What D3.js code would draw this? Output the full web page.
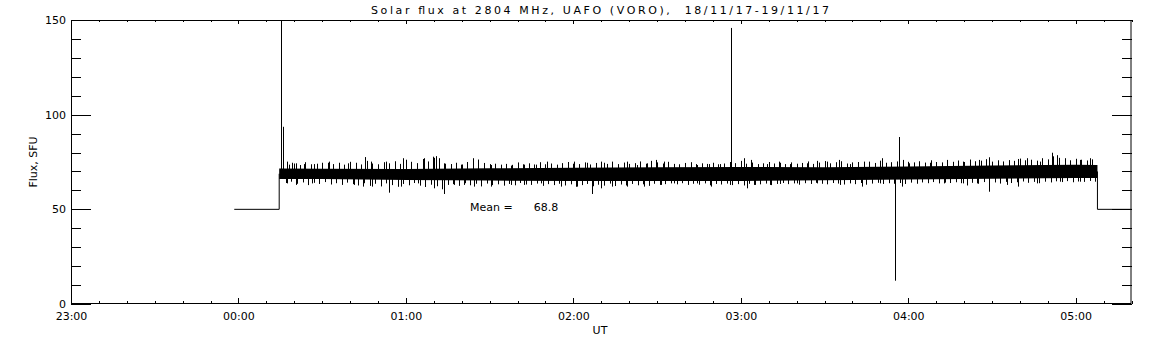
<!DOCTYPE html>
<html>
<head>
<meta charset="utf-8">
<script src="https://cdn.jsdelivr.net/npm/d3@7"></script>
<style>
  body { margin: 0; background: #fff; }
  svg text { font-family: "DejaVu Sans", sans-serif; font-size: 11px; fill: #000; white-space: pre; }
</style>
</head>
<body>
<div id="chart"></div>
<script>
// times are minutes after 00:00 UT on 19/11/17 (negative = previous day)
var preTimes = [-1.5, 14.6];
var preFlux = [50, 50];
var postTimes = [307.8, 320];
var postFlux = [50, 50];

// dense part of the record: upper and lower edge of the black band
var bandTimes = [14.6, 30, 60, 90, 120, 150, 180, 210, 240, 270, 300, 307.8];
var bandHigh = [71.6, 71.5, 71.3, 71.7, 71.9, 72.2, 72.4, 72.2, 72.6, 73.2, 73.6, 73.4];
var bandLow = [66.0, 66.0, 65.5, 65.2, 65.0, 64.9, 65.0, 65.4, 65.8, 66.2, 66.5, 66.6];

// larger excursions above the band
var upTimes = [15.4, 15.9, 17.4, 19.1, 20.7, 23.6, 27.2, 29.9, 32.6, 36.2, 39.2, 42.1, 45.4, 47.5, 52.9, 58.9,
  66.6, 69.6, 70.7, 71.9, 73.7, 76.1, 79.7, 83.9, 85.7, 90.4, 94, 97.6, 100, 102.4, 106.5, 110.7,
  114.3, 120.3, 125, 131, 134, 139.3, 142.9, 146.5, 149.5, 152.5, 157.8,
  164.4, 168.6, 172.7, 176.6, 179.9, 181.1, 183.5, 189.4, 193.6, 197.8, 203.8, 207.3, 210.9,
  215.1, 219.3, 224, 230.6, 236.6, 238.3, 240.1, 247.9, 253.9, 259.8,
  265.2, 268.8, 274.1, 279.5, 282.5, 287.3, 291.4, 293.2, 296.2, 301.6, 305.1];
var upFlux = [150, 93.6, 75.2, 74.6, 74.3, 73.9, 73.9, 74.6, 75.2, 74.6, 74.3, 74.6, 77.6, 75.2, 75.2, 77.0,
  77.0, 77.8, 78.1, 77.0, 74.3, 73.9, 73.6, 77.0, 74.6, 73.4, 73.4, 73.1, 74.6, 73.6, 73.6, 75.2,
  73.4, 75.2, 74.6, 74.6, 75.2, 75.2, 73.4, 74.3, 76.1, 75.2, 73.4,
  73.4, 73.9, 73.9, 145.8, 74.6, 77.0, 76.1, 73.9, 75.2, 73.9, 74.3, 75.6, 75.2,
  76.1, 73.9, 75.2, 77.0, 88.2, 76.1, 74.3, 74.6, 76.1, 75.2,
  76.1, 77.5, 73.9, 76.6, 77.0, 75.2, 79.9, 78.6, 77.0, 76.1, 77.0];

// larger excursions below the band
var downTimes = [17.4, 20.7, 26.5, 33.2, 41.5, 44.7, 47.7, 53.8, 58.1,
  64.2, 70.2, 73.7, 77.3, 80.9, 84.5, 90.4, 97.6, 102.4, 108.3,
  115.5, 121.4, 126.8, 129.8, 134, 139.3, 145.3, 151.3, 156,
  164.4, 169.2, 176.3, 182.3, 184.7, 190.6, 194.2, 200.2, 207.3,
  215.7, 223.4, 230, 235.1, 237.7, 243.1, 252.7, 259.8,
  264.6, 268.8, 275.3, 279.5, 286.1, 294.4, 301.6];
var downFlux = [63.7, 62.9, 63.7, 63.7, 62.9, 62.0, 62.0, 58.8, 62.0,
  63.7, 61.1, 58.1, 62.9, 62.9, 62.0, 62.0, 62.9, 62.9, 63.7,
  62.0, 62.0, 58.1, 61.1, 62.0, 62.0, 62.0, 62.9, 63.7,
  63.7, 62.0, 62.9, 61.1, 62.9, 62.9, 63.4, 63.7, 63.7,
  62.9, 62.0, 63.7, 12.3, 62.0, 63.7, 63.7, 63.7,
  63.7, 59.3, 62.9, 62.0, 63.7, 64.6, 64.6];

// smaller hairs along the band edges, every 2 minutes (estimated)
var hairUpTimes = d3.range(16, 307, 2);
var hairUpFlux = [74.8, 73.6, 74.2, 73.4, 74.9, 73.8, 74.1, 73.5, 74.6, 73.9,
  74.4, 73.6, 75.1, 74.0, 73.7, 75.6, 74.2, 73.8, 74.9, 74.3,
  75.4, 74.0, 76.2, 75.1, 74.4, 76.6, 75.3, 77.2, 74.8, 74.1,
  73.8, 74.6, 73.7, 75.0, 74.2, 76.3, 74.5, 73.9, 74.1, 73.6,
  74.0, 73.5, 74.7, 73.8, 74.3, 73.7, 74.9, 73.8, 74.2, 73.6,
  74.4, 75.0, 74.1, 73.9, 74.8, 73.7, 74.5, 75.2, 74.0, 74.6,
  73.9, 74.7, 74.0, 74.4, 75.3, 74.1, 75.6, 74.8, 74.2, 75.1,
  74.0, 73.8, 74.5, 74.9, 73.9, 74.3, 74.0, 74.6, 73.8, 74.2,
  75.0, 74.4, 75.6, 74.1, 74.7, 73.9, 74.3, 75.0, 74.2, 74.6,
  73.9, 74.8, 74.1, 74.5, 75.3, 74.0, 74.7, 75.5, 74.3, 74.9,
  75.4, 74.2, 74.8, 75.0, 74.4, 75.2, 74.5, 75.7, 74.6, 74.9,
  75.3, 74.6, 75.1, 74.8, 75.4, 74.7, 75.9, 75.0, 74.8, 75.5,
  75.1, 75.8, 75.0, 76.3, 75.4, 75.7, 76.5, 75.2, 75.9, 75.3,
  76.0, 75.6, 76.8, 75.9, 76.2, 75.7, 77.0, 76.4, 78.0, 77.2,
  76.5, 75.9, 76.7, 76.2, 75.8, 76.4];
var hairDownTimes = d3.range(17, 308, 2);
var hairDownFlux = [63.9, 64.6, 63.5, 64.2, 62.8, 64.0, 63.4, 64.4, 63.1, 63.8,
  62.9, 64.1, 63.3, 62.6, 63.8, 62.4, 63.5, 62.1, 63.7, 62.8,
  61.9, 63.4, 62.7, 63.9, 62.5, 61.8, 63.0, 62.2, 60.6, 62.9,
  63.3, 62.4, 63.8, 62.7, 63.5, 62.1, 63.6, 62.8, 63.2, 62.5,
  63.4, 62.7, 63.9, 63.1, 62.9, 63.6, 62.4, 63.3, 62.8, 63.5,
  62.6, 63.2, 61.9, 62.8, 63.4, 62.2, 63.0, 62.5, 63.6, 62.3,
  63.1, 62.6, 63.4, 62.7, 63.2, 62.4, 63.5, 62.9, 63.3, 63.7,
  63.2, 63.8, 62.9, 63.5, 63.0, 63.7, 62.7, 63.4, 63.1, 63.6,
  62.8, 63.3, 62.6, 63.5, 62.9, 63.2, 63.6, 62.8, 63.4, 63.9,
  63.3, 63.7, 63.0, 63.8, 63.4, 64.0, 63.5, 63.2, 63.9, 63.6,
  63.1, 63.7, 63.3, 63.9, 63.0, 63.6, 64.0, 63.4, 63.8, 63.5,
  63.9, 63.4, 64.1, 63.6, 64.2, 63.8, 64.4, 63.7, 64.1, 63.9,
  64.3, 63.8, 62.6, 64.0, 63.5, 64.4, 63.9, 64.2, 63.6, 64.5,
  63.9, 64.3, 64.7, 64.0, 64.5, 63.8, 64.6, 64.2, 64.8, 64.4,
  64.9, 64.3, 64.7, 64.5, 65.0, 64.6];

var yMajor = [0, 50, 100, 150];
var meanFlux = 68.8;
var titleText = "Solar flux at 2804 MHz, UAFO (VORO),  18/11/17-19/11/17";

var width = 1152, height = 345;
var margin = { top: 20, right: 20.5, bottom: 41, left: 71 };

var t0 = Date.UTC(2017, 10, 19, 0, 0);
function toDate(m) { return new Date(t0 + m * 60000); }

var x = d3.scaleUtc()
    .domain([toDate(-60), toDate(320)])
    .range([margin.left, width - margin.right]);

var y = d3.scaleLinear()
    .domain([0, 150])
    .range([height - margin.bottom, margin.top]);

var svg = d3.select("#chart").append("svg")
    .attr("width", width)
    .attr("height", height);

var fmt = d3.utcFormat("%H:%M");
var majorX = d3.utcHour.range(toDate(-60), toDate(321));
var minorX = d3.utcMinute.every(10).range(toDate(-60), toDate(321));
var minorY = d3.range(0, 151, 10);

// bottom axis
var bottomAxis = svg.append("g")
    .attr("transform", `translate(0, ${y(0)})`);
bottomAxis.append("g").call(d3.axisBottom(x).tickValues(minorX).tickSize(-3).tickFormat(""));
bottomAxis.append("g").call(d3.axisBottom(x).tickValues(majorX).tickSize(-6).tickPadding(8).tickFormat(fmt));

// top axis
var topAxis = svg.append("g")
    .attr("transform", `translate(0, ${y(150)})`);
topAxis.append("g").call(d3.axisTop(x).tickValues(minorX).tickSize(-2).tickFormat(""));
topAxis.append("g").call(d3.axisTop(x).tickValues(majorX).tickSize(-4).tickFormat(""));

// left axis
var leftAxis = svg.append("g")
    .attr("transform", `translate(${margin.left}, 0)`);
leftAxis.append("g").call(d3.axisLeft(y).tickValues(minorY).tickSize(-10).tickFormat(""));
leftAxis.append("g").call(d3.axisLeft(y).tickValues(yMajor).tickSize(-20).tickPadding(5).tickFormat(d3.format("d")));

// right axis
var rightAxis = svg.append("g")
    .attr("transform", `translate(${width - margin.right}, 0)`);
rightAxis.append("g").call(d3.axisRight(y).tickValues(minorY).tickSize(-10).tickFormat(""));
rightAxis.append("g").call(d3.axisRight(y).tickValues(yMajor).tickSize(-20).tickFormat(""));

svg.selectAll(".domain").remove();
svg.selectAll(".tick line").attr("stroke", "#000").attr("shape-rendering", "crispEdges");
svg.selectAll(".tick text").style("font-family", "DejaVu Sans, sans-serif").style("font-size", "11px");

svg.append("rect")
    .attr("x", margin.left + 0.5)
    .attr("y", margin.top + 0.5)
    .attr("width", width - margin.right - margin.left - 1)
    .attr("height", y(0) - margin.top - 1)
    .attr("fill", "none")
    .attr("stroke", "#000")
    .attr("stroke-width", 1);

// flux record
var plot = svg.append("g");

var band = bandTimes.map(function(t, i) { return { t: t, hi: bandHigh[i], lo: bandLow[i] }; });

plot.append("path")
    .datum(band)
    .attr("fill", "#000")
    .attr("d", d3.area()
        .x(d => x(toDate(d.t)))
        .y0(d => y(d.lo))
        .y1(d => y(d.hi)));

var line = d3.line()
    .x(d => x(toDate(d[0])))
    .y(d => y(d[1]));

var first = band[0], last = band[band.length - 1];
var pre = preTimes.map((t, i) => [t, preFlux[i]]);
pre.push([first.t, (first.hi + first.lo) / 2]);
var post = [[last.t, (last.hi + last.lo) / 2]].concat(postTimes.map((t, i) => [t, postFlux[i]]));

plot.append("path").datum(pre).attr("fill", "none").attr("stroke", "#000").attr("d", line);
plot.append("path").datum(post).attr("fill", "none").attr("stroke", "#000").attr("d", line);

var mid = d3.scaleLinear().domain(bandTimes).range(bandTimes.map((t, i) => (bandHigh[i] + bandLow[i]) / 2));

var spikes = upTimes.map((t, i) => [t, upFlux[i]])
    .concat(downTimes.map((t, i) => [t, downFlux[i]]))
    .concat(hairUpTimes.map((t, i) => [t, hairUpFlux[i]]))
    .concat(hairDownTimes.map((t, i) => [t, hairDownFlux[i]]));

plot.selectAll("line.spike")
    .data(spikes)
    .enter()
    .append("line")
    .attr("class", "spike")
    .attr("x1", d => Math.round(x(toDate(d[0]))) + 0.5)
    .attr("x2", d => Math.round(x(toDate(d[0]))) + 0.5)
    .attr("y1", d => y(mid(d[0])))
    .attr("y2", d => y(Math.min(d[1], 150)))
    .attr("stroke", "#000")
    .attr("stroke-width", 1);

// labels
svg.append("text")
    .attr("x", 600)
    .attr("y", 14)
    .attr("text-anchor", "middle")
    .attr("textLength", 458)
    .attr("lengthAdjust", "spacing")
    .text(titleText);

svg.append("text")
    .attr("transform", `translate(37, ${(y(0) + y(150)) / 2}) rotate(-90)`)
    .attr("text-anchor", "middle")
    .text("Flux, SFU");

svg.append("text")
    .attr("x", 600)
    .attr("y", 334)
    .attr("text-anchor", "middle")
    .text("UT");

svg.append("text")
    .attr("x", 470)
    .attr("y", 211)
    .text("Mean =      " + meanFlux.toFixed(1));
</script>
</body>
</html>
